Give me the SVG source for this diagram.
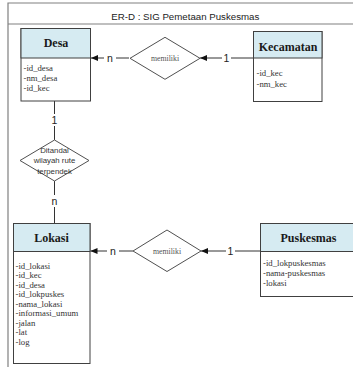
<svg xmlns="http://www.w3.org/2000/svg" width="353" height="367" viewBox="0 0 353 367">
<defs>
<style>
.frame{fill:none;stroke:#808080;stroke-width:1.2}
.box{fill:#fff;stroke:#404040;stroke-width:1}
.hdr{fill:#d6ebf2;stroke:#404040;stroke-width:1}
.ttl{font-family:"Liberation Serif",serif;font-weight:bold;font-size:12px;fill:#1a1a1a;text-anchor:middle}
.attr{font-family:"Liberation Serif",serif;font-size:8.7px;fill:#333}
.rel{fill:#fff;stroke:#505050;stroke-width:1}
.reltxt{font-family:"Liberation Serif",serif;font-size:7.8px;fill:#555;text-anchor:middle}
.reltxt2{font-family:"Liberation Sans",sans-serif;font-size:7.8px;fill:#333;text-anchor:middle}
.lbl{font-family:"Liberation Sans",sans-serif;font-size:10.5px;fill:#222;text-anchor:middle}
.ln{stroke:#333;stroke-width:1;fill:none}
.title{font-family:"Liberation Sans",sans-serif;font-size:9.7px;fill:#222;text-anchor:middle}
</style>
<marker id="ah" markerWidth="7" markerHeight="6" refX="7" refY="3" orient="auto" markerUnits="userSpaceOnUse">
<path d="M0,0 L7,3 L0,6 Z" fill="#111"/>
</marker>
</defs>
<rect width="353" height="367" fill="#fff"/>
<g id="frame">
<path class="frame" d="M8,367 V3 H353 M8,24 H353"/>
<text class="title" x="185.3" y="19.5">ER-D : SIG Pemetaan Puskesmas</text>
</g>
<g id="connectors">
<path class="ln" d="M129,58 H116" />
<path class="ln" d="M104,58 H91" marker-end="url(#ah)"/>
<path class="ln" d="M253,58 H231"/>
<path class="ln" d="M222,58 H200" marker-end="url(#ah)"/>
<path class="ln" d="M133,251 H119"/>
<path class="ln" d="M107,251 H90.5" marker-end="url(#ah)"/>
<path class="ln" d="M260.5,251 H235"/>
<path class="ln" d="M226,251 H201" marker-end="url(#ah)"/>
<path class="ln" d="M54.5,101 V114 M54.5,126 V140 M54.5,181 V195 M54.5,207 V223"/>
<text class="lbl" x="110" y="62">n</text>
<text class="lbl" x="226.5" y="62">1</text>
<text class="lbl" x="113" y="255">n</text>
<text class="lbl" x="230.5" y="255">1</text>
<text class="lbl" x="54.5" y="124">1</text>
<text class="lbl" x="54.5" y="205">n</text>
</g>
<g id="desa">
<rect class="box" x="21" y="28.5" width="69.5" height="72.5"/>
<rect class="hdr" x="21" y="28.5" width="69.5" height="29.5"/>
<text class="ttl" x="56" y="46.5">Desa</text>
<text class="attr" x="23.5" y="71">-id_desa</text>
<text class="attr" x="23.5" y="81">-nm_desa</text>
<text class="attr" x="23.5" y="91">-id_kec</text>
</g>
<g id="kecamatan">
<rect class="box" x="253.5" y="31.5" width="68.5" height="70"/>
<rect class="hdr" x="253.5" y="31.5" width="68.5" height="26.5"/>
<text class="ttl" x="288" y="51">Kecamatan</text>
<text class="attr" x="256.5" y="76">-id_kec</text>
<text class="attr" x="256.5" y="86.5">-nm_kec</text>
</g>
<g id="memiliki1">
<polygon class="rel" points="130,58.3 165,37.3 200,58.3 165,79.3"/>
<text class="reltxt" x="165" y="60.5">memiliki</text>
</g>
<g id="ditandai">
<polygon class="rel" points="20,160.5 54.5,140 89,160.5 54.5,181"/>
<text class="reltxt2" x="54.5" y="153">Ditandai</text>
<text class="reltxt2" x="54.5" y="163">wilayah rute</text>
<text class="reltxt2" x="54.5" y="173.5">terpendek</text>
</g>
<g id="lokasi">
<rect class="box" x="13.5" y="223.5" width="76.5" height="140"/>
<rect class="hdr" x="13.5" y="223.5" width="76.5" height="28"/>
<text class="ttl" x="51.5" y="242">Lokasi</text>
<text class="attr" x="15.5" y="268.5">-id_lokasi</text>
<text class="attr" x="15.5" y="278">-id_kec</text>
<text class="attr" x="15.5" y="287.5">-id_desa</text>
<text class="attr" x="15.5" y="297">-id_lokpuskes</text>
<text class="attr" x="15.5" y="306.5">-nama_lokasi</text>
<text class="attr" x="15.5" y="316">-informasi_umum</text>
<text class="attr" x="15.5" y="325.5">-jalan</text>
<text class="attr" x="15.5" y="335">-lat</text>
<text class="attr" x="15.5" y="344.5">-log</text>
</g>
<g id="memiliki2">
<polygon class="rel" points="133,251 167,230 201,251 167,271.5"/>
<text class="reltxt" x="167" y="253.5">memiliki</text>
</g>
<g id="puskesmas">
<rect class="box" x="260.5" y="223.5" width="96" height="73"/>
<rect class="hdr" x="260.5" y="223.5" width="96" height="28"/>
<text class="ttl" x="308.5" y="242">Puskesmas</text>
<text class="attr" x="263" y="266">-id_lokpuskesmas</text>
<text class="attr" x="263" y="276">-nama-puskesmas</text>
<text class="attr" x="263" y="286">-lokasi</text>
</g>
</svg>
